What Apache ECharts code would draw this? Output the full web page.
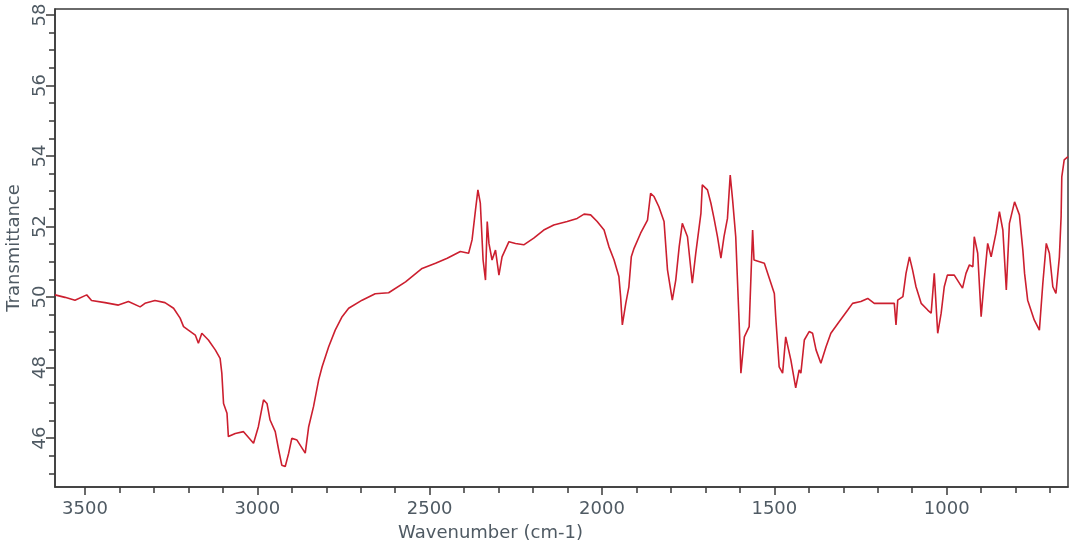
<!DOCTYPE html>
<html>
<head>
<meta charset="utf-8">
<script src="https://cdn.jsdelivr.net/npm/echarts@6/dist/echarts.min.js"></script>
<style>
html,body{margin:0;padding:0;background:#fff;}
#chart{width:1070px;height:550px;}
</style>
</head>
<body>
<div id="chart"></div>
<script>
// Wavenumber (cm-1), descending
const wavenumbers = [3587,3558,3529,3495,3481,3442,3403,3374,3340,3326,3297,3268,3243,3224,3214,3200,3180,3171,3161,3142,3122,3108,3103,3098,3088,3084,3064,3040,3011,2997,2982,2972,2963,2948,2938,2929,2919,2909,2900,2885,2861,2851,2837,2822,2812,2793,2774,2754,2735,2696,2658,2619,2570,2522,2483,2449,2411,2387,2377,2367,2360,2353,2345,2338,2333,2328,2319,2309,2299,2290,2270,2251,2227,2198,2169,2140,2101,2072,2052,2033,2014,1994,1980,1965,1951,1946,1941,1931,1922,1915,1907,1888,1868,1859,1849,1835,1820,1810,1796,1786,1776,1767,1752,1738,1728,1713,1709,1694,1684,1675,1665,1655,1646,1636,1628,1621,1612,1602,1597,1587,1573,1563,1559,1529,1500,1496,1486,1476,1467,1452,1438,1428,1423,1413,1399,1389,1379,1365,1350,1336,1312,1287,1273,1249,1229,1210,1191,1152,1147,1142,1127,1118,1108,1099,1089,1074,1055,1045,1036,1026,1016,1007,998,978,954,944,934,924,920,910,900,891,881,871,857,847,837,827,818,803,789,779,774,765,746,731,721,711,702,692,683,673,668,666,659,648];
// Transmittance
const transmittance = [50.06,49.99,49.91,50.06,49.90,49.84,49.77,49.87,49.72,49.82,49.90,49.84,49.68,49.40,49.16,49.06,48.92,48.69,48.97,48.78,48.50,48.26,47.84,46.98,46.70,46.04,46.13,46.18,45.85,46.32,47.08,46.98,46.51,46.18,45.66,45.23,45.19,45.57,45.99,45.94,45.57,46.32,46.89,47.65,48.02,48.59,49.06,49.44,49.68,49.91,50.09,50.12,50.43,50.81,50.96,51.10,51.29,51.24,51.62,52.47,53.04,52.66,51.05,50.48,52.14,51.52,51.05,51.33,50.62,51.14,51.57,51.52,51.48,51.67,51.90,52.04,52.14,52.23,52.35,52.33,52.14,51.90,51.43,51.05,50.58,50.01,49.21,49.82,50.29,51.14,51.38,51.81,52.18,52.94,52.85,52.56,52.14,50.77,49.91,50.48,51.43,52.09,51.71,50.39,51.24,52.37,53.18,53.04,52.66,52.23,51.71,51.10,51.71,52.23,53.46,52.75,51.71,49.25,47.84,48.87,49.16,51.90,51.05,50.96,50.10,49.44,48.02,47.84,48.87,48.21,47.42,47.93,47.84,48.78,49.02,48.97,48.50,48.12,48.59,48.97,49.30,49.63,49.82,49.87,49.96,49.82,49.82,49.82,49.21,49.91,50.01,50.67,51.14,50.77,50.29,49.82,49.63,49.54,50.67,48.97,49.54,50.29,50.62,50.62,50.25,50.67,50.91,50.86,51.71,51.24,49.44,50.48,51.52,51.14,51.81,52.42,51.90,50.20,52.09,52.70,52.33,51.33,50.67,49.91,49.35,49.06,50.39,51.52,51.24,50.29,50.10,51.14,52.28,53.41,53.89,53.98];

const xTickLabels = [3500,3000,2500,2000,1500,1000];
const xMinorTicks = [3500,3400,3300,3200,3100,3000,2900,2800,2700,2600,2500,2400,2300,2200,2100,2000,1900,1800,1700,1600,1500,1400,1300,1200,1100,1000,900,800,700];
const yTickLabels = [46,48,50,52,54,56,58];
const yMinorTicks = [45,45.5,46,46.5,47,47.5,48,48.5,49,49.5,50,50.5,51,51.5,52,52.5,53,53.5,54,54.5,55,55.5,56,56.5,57,57.5,58];

const X_MIN = 648, X_MAX = 3587, Y_MIN = 44.61, Y_MAX = 58.17;
const FONT = 'DejaVu Sans';
const TXT = '#4f5a63';
const AX = '#3a3a3a';

const chart = echarts.init(document.getElementById('chart'), null, {renderer: 'canvas'});
const points = wavenumbers.map((w, i) => [w, transmittance[i]]);
const plain = v => String(v);

chart.setOption({
  animation: false,
  backgroundColor: '#ffffff',
  grid: {left: 55, right: 2, top: 9, bottom: 63, show: true, borderColor: AX, borderWidth: 1.5,
         containLabel: false, outerBoundsMode: 'none'},
  xAxis: [
    {
      type: 'value', inverse: true, min: X_MIN, max: X_MAX,
      name: 'Wavenumber (cm-1)', nameLocation: 'middle', nameGap: 37,
      nameTextStyle: {fontFamily: FONT, fontSize: 18, color: TXT, padding: [0, 142, 0, 0]},
      axisLine: {show: true, lineStyle: {color: AX, width: 1.5}},
      axisTick: {show: true, customValues: xTickLabels, length: 8, lineStyle: {color: AX, width: 1.5}},
      axisLabel: {customValues: xTickLabels, formatter: plain, fontFamily: FONT, fontSize: 18, color: TXT, margin: 13},
      splitLine: {show: false}
    },
    {
      type: 'value', inverse: true, min: X_MIN, max: X_MAX, position: 'bottom',
      axisLine: {show: false},
      axisTick: {show: true, customValues: xMinorTicks, length: 6, lineStyle: {color: AX, width: 1.5}},
      axisLabel: {show: false},
      splitLine: {show: false}
    }
  ],
  yAxis: [
    {
      type: 'value', min: Y_MIN, max: Y_MAX,
      name: 'Transmittance', nameLocation: 'middle', nameGap: 21,
      nameTextStyle: {fontFamily: FONT, fontSize: 18, color: TXT},
      axisLine: {show: true, lineStyle: {color: AX, width: 1.5}},
      axisTick: {show: true, customValues: yTickLabels, length: 9, lineStyle: {color: AX, width: 1.5}},
      axisLabel: {customValues: yTickLabels, formatter: plain, rotate: 90, fontFamily: FONT, fontSize: 18, color: TXT, margin: 6},
      splitLine: {show: false}
    },
    {
      type: 'value', min: Y_MIN, max: Y_MAX, position: 'left',
      axisLine: {show: false},
      axisTick: {show: true, customValues: yMinorTicks, length: 6, lineStyle: {color: AX, width: 1.5}},
      axisLabel: {show: false},
      splitLine: {show: false}
    }
  ],
  series: [{
    type: 'line',
    xAxisIndex: 0, yAxisIndex: 0,
    data: points,
    showSymbol: false,
    symbol: 'none',
    smooth: false,
    lineStyle: {color: '#cc1f2f', width: 1.6}
  }]
});
</script>
</body>
</html>
